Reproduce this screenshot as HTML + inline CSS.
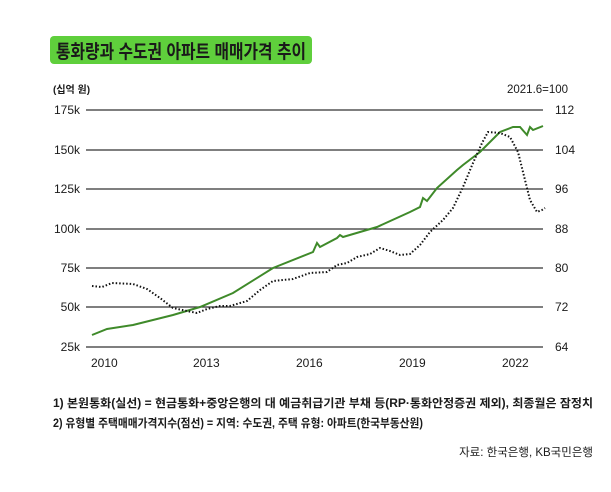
<!DOCTYPE html>
<html><head><meta charset="utf-8"><style>
body{margin:0;background:#fff;width:611px;height:487px;overflow:hidden}
svg text{font-family:"Liberation Sans","Noto Sans CJK KR",sans-serif;fill:#1a1a1a}
</style></head><body>
<svg width="611" height="487" viewBox="0 0 611 487" xmlns="http://www.w3.org/2000/svg">
<rect x="50" y="36" width="262" height="28" rx="4" fill="#5fcf3c"/>
<text x="56" y="58" font-size="19" font-weight="bold" fill="#111" textLength="250" lengthAdjust="spacingAndGlyphs">통화량과 수도권 아파트 매매가격 추이</text>
<text x="53" y="93" font-size="10" font-weight="bold">(십억 원)</text>
<text x="507" y="93" font-size="11.5">2021.6=100</text>
<g stroke="#333" stroke-width="1.3">
<line x1="86" y1="110" x2="543" y2="110"/><line x1="86" y1="150" x2="543" y2="150"/>
<line x1="86" y1="189" x2="543" y2="189"/><line x1="86" y1="229" x2="543" y2="229"/>
<line x1="86" y1="268" x2="543" y2="268"/><line x1="86" y1="307" x2="543" y2="307"/>
<line x1="86" y1="347" x2="543" y2="347"/></g>
<g font-size="12" text-anchor="end">
<text x="80" y="114">175k</text><text x="80" y="154">150k</text><text x="80" y="193">125k</text>
<text x="80" y="233">100k</text><text x="80" y="272">75k</text><text x="80" y="311">50k</text><text x="80" y="351">25k</text></g>
<g font-size="12">
<text x="555" y="114">112</text><text x="555" y="154">104</text><text x="555" y="193">96</text>
<text x="555" y="233">88</text><text x="555" y="272">80</text><text x="555" y="311">72</text><text x="555" y="351">64</text></g>
<g font-size="12"><text x="91" y="367">2010</text><text x="193" y="367">2013</text><text x="296" y="367">2016</text><text x="399" y="367">2019</text><text x="502" y="367">2022</text></g>
<polyline fill="none" stroke="#3f8a2a" stroke-width="2" points="92,335 107,329 133,325 173,315 200,307 233,293 273,268 313,252 317,243 320,247 337,238 340,235 343,237 360,232 377,227 410,212 420,207 423,198 427,201 437,188 457,170 463,165 480,152 500,132 513,127 520,127 527,135 530,127 533,130 543,126"/>
<polyline fill="none" stroke="#111" stroke-width="2" stroke-dasharray="1.5,2" points="92,286 102,287 112,283 133,284 147,289 160,298 173,308 187,311 197,313 207,309 220,306 230,306 247,301 260,290 273,281 293,279 310,273 327,272 337,265 347,263 357,257 370,254 380,248 390,251 400,255 410,254 420,245 430,232 443,220 453,208 463,187 473,163 482,143 488,132 500,133 510,137 518,152 525,180 530,200 537,212 542,210 545,208"/>
<text x="53" y="407" font-size="11.5" font-weight="bold" textLength="540" lengthAdjust="spacingAndGlyphs">1) 본원통화(실선) = 현금통화+중앙은행의 대 예금취급기관 부채 등(RP·통화안정증권 제외), 최종월은 잠정치</text>
<text x="53" y="427" font-size="11.5" font-weight="bold" textLength="370" lengthAdjust="spacingAndGlyphs">2) 유형별 주택매매가격지수(점선) = 지역: 수도권, 주택 유형: 아파트(한국부동산원)</text>
<text x="593" y="456" font-size="11.5" text-anchor="end">자료: 한국은행, KB국민은행</text>
</svg>
</body></html>
